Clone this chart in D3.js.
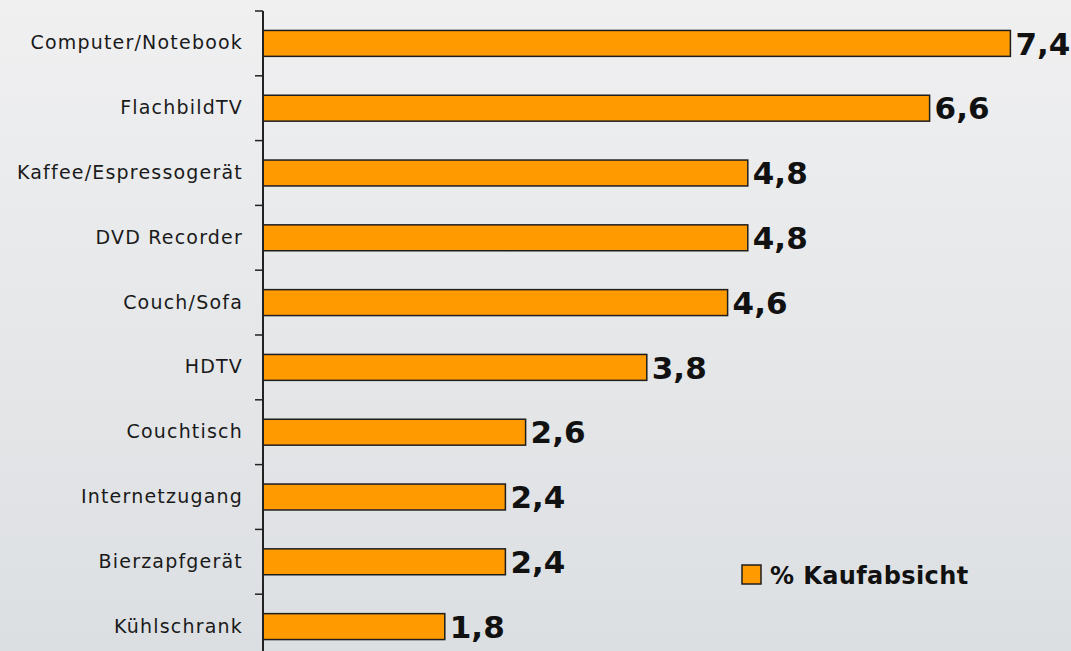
<!DOCTYPE html>
<html>
<head>
<meta charset="utf-8">
<script src="https://cdn.jsdelivr.net/npm/d3@7"></script>
<style>
  body { margin: 0; overflow: hidden; }
  svg { display: block; }
</style>
</head>
<body>
<div id="chart"></div>
<script>
const width = 1071;
const height = 651;

// Daten
const categories = ['Computer/Notebook', 'FlachbildTV', 'Kaffee/Espressogerät', 'DVD Recorder',
  'Couch/Sofa', 'HDTV', 'Couchtisch', 'Internetzugang', 'Bierzapfgerät', 'Kühlschrank'];
const values = [7.4, 6.6, 4.8, 4.8, 4.6, 3.8, 2.6, 2.4, 2.4, 1.8];
const seriesName = '% Kaufabsicht';

const data = categories.map((c, i) => ({ name: c, value: values[i] }));

const svg = d3.select('#chart')
  .append('svg')
  .attr('width', width)
  .attr('height', height);

// Hintergrund mit Verlauf
const grad = svg.append('defs').append('linearGradient')
  .attr('id', 'bg')
  .attr('x1', 0).attr('y1', 0).attr('x2', 0).attr('y2', 1);
grad.append('stop').attr('offset', '0%').attr('stop-color', '#f0f0f1');
grad.append('stop').attr('offset', '100%').attr('stop-color', '#dcdfe2');

svg.append('rect')
  .attr('width', width)
  .attr('height', height)
  .attr('fill', 'url(#bg)');

const x0 = 263;
const xScale = d3.scaleLinear()
  .domain([0, 8])
  .range([x0, width]);

const yScale = d3.scaleBand()
  .domain(categories)
  .range([11, 659])
  .paddingInner(0.6)
  .paddingOuter(0.3);

const step = yScale.step();

// Balken
svg.selectAll('.bar')
  .data(data)
  .enter()
  .append('rect')
  .attr('class', 'bar')
  .attr('x', xScale(0))
  .attr('y', d => yScale(d.name))
  .attr('width', d => xScale(d.value) - xScale(0))
  .attr('height', yScale.bandwidth())
  .attr('fill', '#ff9a00')
  .attr('stroke', '#1e1e1e')
  .attr('stroke-width', 1.5);

// Werte
svg.selectAll('.labelbar')
  .data(data)
  .enter()
  .append('text')
  .attr('class', 'labelbar')
  .attr('x', d => xScale(d.value) + 5)
  .attr('y', d => yScale(d.name) + yScale.bandwidth() / 2)
  .attr('dy', '0.36em')
  .attr('font-family', 'DejaVu Sans')
  .attr('font-weight', 'bold')
  .attr('font-size', 31)
  .attr('fill', '#111')
  .text(d => d3.format('.1f')(d.value).replace('.', ','));

// Achse
const yAxis = svg.append('g')
  .attr('transform', `translate(${x0}, 0)`)
  .call(d3.axisLeft(yScale).tickSize(0).tickPadding(20));

yAxis.select('.domain').remove();
yAxis.selectAll('text')
  .attr('font-family', 'DejaVu Sans')
  .attr('font-size', 19)
  .attr('letter-spacing', 1.2)
  .attr('fill', '#1a1a1a');

svg.append('line')
  .attr('x1', x0).attr('x2', x0)
  .attr('y1', 11).attr('y2', height)
  .attr('stroke', '#222')
  .attr('stroke-width', 2);

// Ticks zwischen den Kategorien
const tickPos = d3.range(categories.length + 1).map(i => yScale.range()[0] + i * step);
svg.selectAll('.tick-b')
  .data(tickPos)
  .enter()
  .append('line')
  .attr('class', 'tick-b')
  .attr('x1', x0 - 8).attr('x2', x0)
  .attr('y1', d => d).attr('y2', d => d)
  .attr('stroke', '#222')
  .attr('stroke-width', 1.5);

// Legende
const legend = svg.append('g').attr('transform', 'translate(742, 565)');
legend.append('rect')
  .attr('width', 19)
  .attr('height', 19)
  .attr('fill', '#ff9a00')
  .attr('stroke', '#1e1e1e')
  .attr('stroke-width', 1.5);
legend.append('text')
  .attr('x', 28)
  .attr('y', 10)
  .attr('dy', '0.36em')
  .attr('font-family', 'DejaVu Sans')
  .attr('font-weight', 'bold')
  .attr('font-size', 24)
  .attr('letter-spacing', 0.4)
  .attr('fill', '#111')
  .text(seriesName);
</script>
</body>
</html>
